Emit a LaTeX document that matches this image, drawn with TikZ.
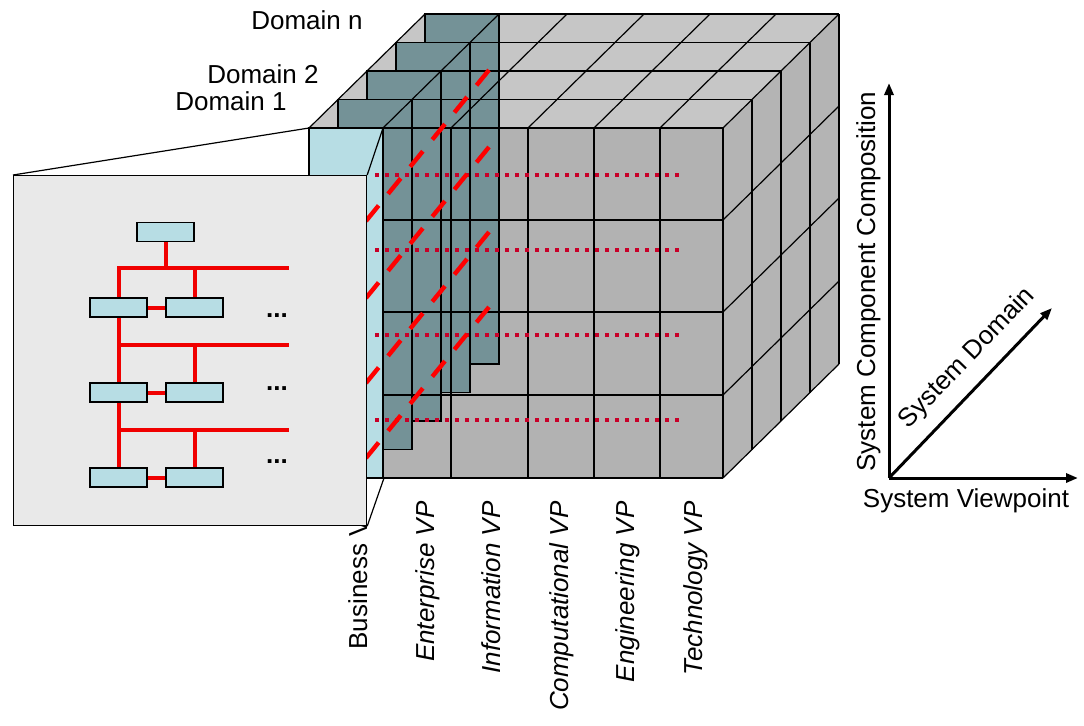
\documentclass[tikz,border=0pt]{standalone}
\usepackage{fontspec}
\setmainfont{Liberation Sans}
\usetikzlibrary{arrows.meta,positioning}
\definecolor{cubefront}{RGB}{178,178,178}
\definecolor{cubetop}{RGB}{198,198,198}
\definecolor{cubeside}{RGB}{180,180,180}
\definecolor{platecol}{RGB}{116,146,151}
\definecolor{bizblue}{RGB}{183,221,228}
\definecolor{panelgray}{RGB}{233,233,233}
\definecolor{busred}{RGB}{240,0,0}
\definecolor{dotred}{RGB}{200,0,40}

\begin{document}
\begin{tikzpicture}[
  x=0.5pt, y=-0.5pt,
  every node/.style={font=\fontsize{13}{15}\selectfont},
  cubeline/.style={draw=black,line width=0.6pt},
  plate/.style={fill=platecol,draw=black,line width=0.6pt},
  orgbox/.style={draw,fill=bizblue,minimum width=28.5pt,minimum height=9.5pt,inner sep=0pt,line width=0.6pt},
  bus/.style={busred,line width=2pt},
  dotline/.style={dotred,line width=2.4pt,dash pattern=on 2.2pt off 2.8pt},
  dashline/.style={red,line width=2.2pt,dash pattern=on 10pt off 7.5pt},
  label/.style={inner sep=0pt},
  vplabel/.style={rotate=90,anchor=base east,inner sep=0pt,font=\fontsize{13}{15}\selectfont\itshape},
  axis/.style={line width=1.5pt,-{Triangle[length=6pt,width=4.5pt]}}
]
  \useasboundingbox (0,0) rectangle (1084,725);

  % Cube faces
  \fill[cubetop] (309,128) -- (723,128) -- (839,14) -- (425,14) -- cycle;
  \fill[cubeside] (723,128) -- (839,14) -- (839,364) -- (723,478) -- cycle;
  \fill[cubefront] (383,128) rectangle (723,478);

  % Domain plates, deepest first
  \foreach \k in {4,3,2,1}
    \filldraw[plate] ({309+29*\k},{128-28.5*\k}) rectangle ++(74,350);

  % Cube grid
  \foreach \k in {1,2,3,4} {
    \draw[cubeline] ({309+29*\k},{128-28.5*\k}) -- ({723+29*\k},{128-28.5*\k});
    \draw[cubeline] ({723+29*\k},{128-28.5*\k}) -- ++(0,350);
  }
  \foreach \c in {309,383,451,528,594,660,723}
    \draw[cubeline] (\c,128) -- ++(116,-114);
  \foreach \r in {220,312,395,478}
    \draw[cubeline] (723,\r) -- ++(116,-114);
  \foreach \c in {451,528,594,660,723}
    \draw[cubeline] (\c,128) -- (\c,478);
  \foreach \r in {128,220,312,395,478}
    \draw[cubeline] (383,\r) -- (723,\r);

  % Business column
  \filldraw[fill=bizblue,cubeline] (309,128) rectangle (383,478);
  \coordinate (biztl) at (309,128);
  \coordinate (biztr) at (383,128);
  \coordinate (bizbr) at (384,478);

  % Red traces
  \foreach \y in {175,250,335,420}
    \draw[dotline] (375,\y) -- (680,\y);
  \foreach \y in {458,383,298,221}
    \draw[dashline] (366,\y) -- ++(123,-151);

  % Viewpoint labels
  \node[rotate=90,anchor=base east,label] (bizlab) at (367,519) {Business V};
  \node[vplabel] (entlab) at (434,501) {Enterprise VP};
  \node[vplabel] (inflab) at (500,501) {Information VP};
  \node[vplabel] (complab) at (568,501) {Computational VP};
  \node[vplabel] (englab) at (634,501) {Engineering VP};
  \node[vplabel] (techlab) at (702,501) {Technology VP};

  % Domain labels
  \node[anchor=base east,label] (dom1) at (287,110) {Domain 1};
  \node[anchor=base east,label] (dom2) at (319,83) {Domain 2};
  \node[anchor=base east,label] (domn) at (363,29) {Domain n};

  % Magnified business slice
  \node[draw,fill=panelgray,line width=0.6pt,minimum width=176.5pt,minimum height=175pt,
        inner sep=0pt,anchor=north west] (panel) at (13,175) {};
  \draw[cubeline] (panel.north west) -- (biztl);
  \draw[cubeline] (panel.north east) -- (biztr);
  \draw[cubeline] (panel.south east) -- (bizbr);

  % Org chart
  \node[orgbox] (chief) at (165.5,232) {};
  \node[orgbox] (a1) at (118.5,307.5) {};
  \node[orgbox] (b1) at (194.5,307.5) {};
  \node[orgbox] (a2) at (118.5,392.5) {};
  \node[orgbox] (b2) at (194.5,392.5) {};
  \node[orgbox] (a3) at (118.5,477.5) {};
  \node[orgbox] (b3) at (194.5,477.5) {};
  \coordinate (bus1) at (289,268);
  \coordinate (bus2) at (289,345);
  \coordinate (bus3) at (289,430);
  \draw[bus] (chief.south) -- (chief.south |- bus1);
  \draw[bus] (a1.north) -- (a1.north |- bus1) -- (bus1);
  \draw[bus] (b1.north) -- (b1.north |- bus1);
  \draw[bus] (a1.east) -- (b1.west);
  \draw[bus] (a1.south) -- (a2.north);
  \draw[bus] (a1.south |- bus2) -- (bus2);
  \draw[bus] (b2.north) -- (b2.north |- bus2);
  \draw[bus] (a2.east) -- (b2.west);
  \draw[bus] (a2.south) -- (a3.north);
  \draw[bus] (a2.south |- bus3) -- (bus3);
  \draw[bus] (b3.north) -- (b3.north |- bus3);
  \draw[bus] (a3.east) -- (b3.west);
  \node[label] (more1) at (277,316) {\bfseries ...};
  \node[label] (more2) at (277,389) {\bfseries ...};
  \node[label] (more3) at (277,462) {\bfseries ...};

  % Axes
  \coordinate (origin) at (889,478);
  \coordinate (vpend) at (1078,478);
  \coordinate (compend) at (889,83);
  \coordinate (domend) at (1052,308);
  \draw[axis] (origin) -- (vpend);
  \draw[axis] (origin) -- (compend);
  \draw[axis] (origin) -- (domend);
  \node[anchor=base,label] (vplab) at (966,507) {System Viewpoint};
  \node[rotate=90,anchor=base,label] (composlab) at (875,281.5) {System Component Composition};
  \node[rotate=46,anchor=base,label] (domainlab) at (972,363) {System Domain};
\end{tikzpicture}
\end{document}
